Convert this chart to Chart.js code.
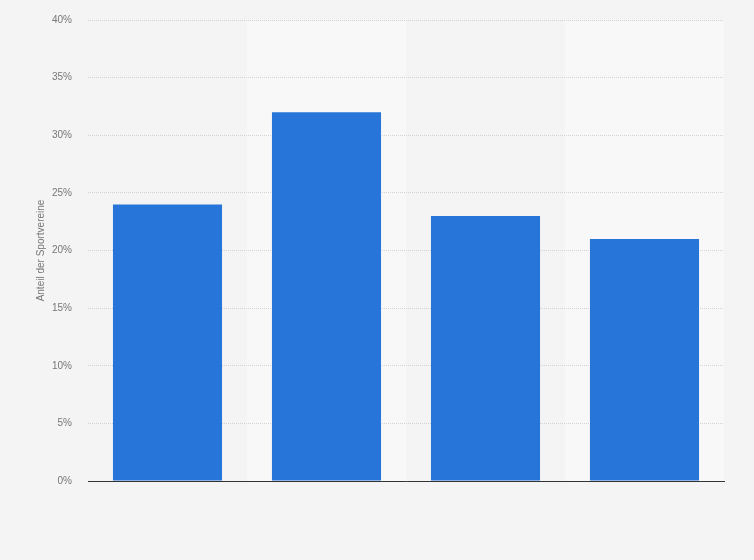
<!DOCTYPE html>
<html>
<head>
<meta charset="utf-8">
<script src="https://cdn.jsdelivr.net/npm/chart.js@4/dist/chart.umd.min.js"></script>
<style>
  html, body { margin: 0; padding: 0; background: #f4f4f4; }
  #wrap { width: 754px; height: 560px; }
</style>
</head>
<body>
<div id="wrap"><canvas id="grafico"></canvas></div>
<script>
// Datos
var categorias = ['', '', '', ''];
var valores = [24, 32, 23, 21];
var ticksY = [0, 5, 10, 15, 20, 25, 30, 35, 40];

// Fondo y bandas alternas (antes de la rejilla)
var bandas = {
  id: 'bandas',
  beforeDraw: function (chart) {
    var x = chart.scales.x, area = chart.chartArea, ctx = chart.ctx;
    var paso = x.width / categorias.length;
    ctx.save();
    ctx.fillStyle = '#f4f4f4';
    ctx.fillRect(0, 0, chart.width, chart.height);
    ctx.fillStyle = '#f8f8f8';
    categorias.forEach(function (c, i) {
      if (i % 2 === 1) {
        var cx = x.getPixelForValue(i);
        ctx.fillRect(cx - paso / 2, area.top, paso, area.bottom - area.top);
      }
    });
    ctx.restore();
  }
};

Chart.defaults.font.family = '"Liberation Sans", Arial, sans-serif';

var ctx = document.getElementById('grafico').getContext('2d');
var grafico = new Chart(ctx, {
  type: 'bar',
  data: {
    labels: categorias,
    datasets: [{
      label: 'Anteil der Sportvereine',
      data: valores,
      backgroundColor: '#2775d9',
      categoryPercentage: 1,
      barPercentage: 0.686
    }]
  },
  options: {
    responsive: true,
    maintainAspectRatio: false,
    animation: false,
    layout: { padding: { top: 20, right: 30, bottom: 71, left: 0 } },
    plugins: {
      legend: { display: false },
      tooltip: { enabled: false }
    },
    scales: {
      x: {
        grid: { display: false },
        ticks: { display: false },
        border: { display: true, color: '#333333', width: 1 }
      },
      y: {
        min: 0,
        max: 40,
        afterFit: function (s) { s.width = 88; s.paddingTop = 0; s.paddingBottom = 0; },
        afterBuildTicks: function (s) { s.ticks = ticksY.map(function (v) { return { value: v }; }); },
        grid: { color: '#d2d2d2', drawTicks: false },
        border: { display: false, dash: [1, 1] },
        ticks: {
          padding: 16,
          color: '#777777',
          font: { size: 10 },
          callback: function (v) { return v + '%'; }
        },
        title: {
          display: true,
          text: 'Anteil der Sportvereine',
          color: '#777777',
          font: { size: 10 },
          padding: { top: 35, bottom: 0 }
        }
      }
    }
  },
  plugins: [bandas]
});
</script>
</body>
</html>
